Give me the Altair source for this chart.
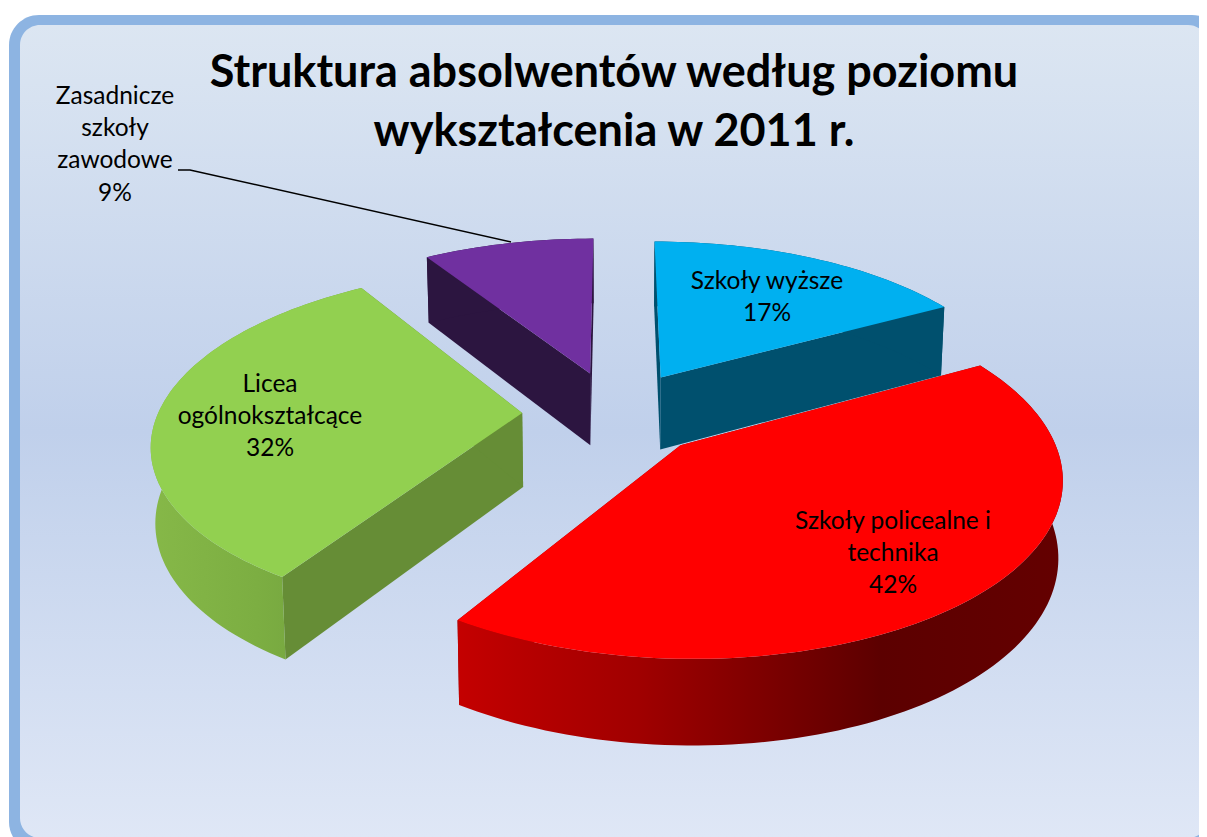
import math
import altair as alt
import pandas as pd

# ---- chart values ----
names = ["Szkoły wyższe", "Szkoły policealne i technika", "Licea ogólnokształcące", "Zasadnicze szkoły zawodowe"]
shares = [17, 42, 32, 9]
top_colors = ["#00B0F0", "#FF0000", "#92D050", "#7030A0"]
cut_colors = ["#00506E", "#8E0000", "#668D36", "#2C1540"]
title_lines = ["Struktura absolwentów według poziomu", "wykształcenia w 2011 r."]
label_lines = [
    ["Szkoły wyższe", "17%"],
    ["Szkoły policealne i", "technika", "42%"],
    ["Licea", "ogólnokształcące", "32%"],
    ["Zasadnicze", "szkoły", "zawodowe", "9%"],
]
label_centre_x = [767, 893, 270, 115]
label_first_y = [282, 522, 385, 97]
draw_order = [3, 0, 2, 1]

# ---- view parameters of the tilted pie ----
CX, CY, RX, RY, PERSP, EXPLODE, DEPTH = 615, 413, 364, 168, 0.16, 0.255, 74
FONT = "Lato"
X = alt.Scale(domain=[8, 1199], range=[0, 1191])
Y = alt.Scale(domain=[8, 837], range=[0, 829])


def project(u, v, low=False):
    s = 1 / (1 - PERSP * v)
    px = CX + RX * u * s
    py = CY + RY * v * s
    if low:
        px = CX + (px - CX) * 0.99
        py = py + DEPTH * s ** 0.75
    return px, py


def slice_geometry(a0, a1):
    mid = (a0 + a1) / 2
    ex, ey = EXPLODE * math.sin(mid), -EXPLODE * math.cos(mid)
    n = max(8, int((a1 - a0) * 40))
    arc = [(ex + math.sin(a0 + (a1 - a0) * i / n), ey - math.cos(a0 + (a1 - a0) * i / n)) for i in range(n + 1)]
    return (ex, ey), arc


def poly(points, fill):
    df = pd.DataFrame([{"i": i, "x": p[0], "y": p[1]} for i, p in enumerate(points)])
    return alt.Chart(df).mark_line(fill=fill, strokeWidth=0, strokeOpacity=0).encode(
        x=alt.X("x:Q", scale=X, axis=None),
        y=alt.Y("y:Q", scale=Y, axis=None),
        order=alt.Order("i:Q"),
    )


def rect(x0, x1, y0, y1, radius, fill):
    df = pd.DataFrame([{"x": x0, "x2": x1, "y": y0, "y2": y1}])
    return alt.Chart(df).mark_rect(cornerRadius=radius, fill=fill).encode(
        x=alt.X("x:Q", scale=X, axis=None), x2="x2:Q",
        y=alt.Y("y:Q", scale=Y, axis=None), y2="y2:Q",
    )


def grad(stops, horizontal=True):
    end = dict(x1=0, x2=1, y1=0, y2=0) if horizontal else dict(x1=0, x2=0, y1=0, y2=1)
    return alt.Gradient(
        gradient="linear",
        stops=[alt.GradientStop(offset=o, color=c) for o, c in stops],
        **end,
    )


wall_fills = [
    "#00506E",
    grad([(0, "#C40000"), (0.3, "#A00000"), (0.7, "#5C0000"), (1, "#640000")]),
    grad([(0, "#86B848"), (0.5, "#7CAE42"), (1, "#6F9E3C")]),
    "#2C1540",
]

layers = [
    rect(9, 1222, 15, 852, 30, "#8DB4E2"),
    rect(20, 1208, 25, 838, 20, grad([(0, "#DCE6F2"), (0.5, "#C0D0EB"), (1, "#DFE7F6")], horizontal=False)),
]

total = sum(shares)
starts = []
acc = 0
for s in shares:
    starts.append(acc)
    acc += s

for k in draw_order:
    a0 = starts[k] / total * 2 * math.pi
    a1 = (starts[k] + shares[k]) / total * 2 * math.pi
    apex, arc = slice_geometry(a0, a1)
    top = [project(*apex)] + [project(*p) for p in arc]
    for edge in (arc[0], arc[-1]):
        quad = [project(*apex), project(*edge), project(*edge, low=True), project(*apex, low=True)]
        layers.append(poly(quad, cut_colors[k]))
    wall = [project(*p) for p in arc] + [project(*p, low=True) for p in reversed(arc)]
    layers.append(poly(wall, wall_fills[k]))
    layers.append(poly(top, top_colors[k]))

# leader line of the smallest slice
leader = pd.DataFrame({"i": [0, 1, 2], "x": [178, 190, 511], "y": [170, 170, 242]})
layers.append(alt.Chart(leader).mark_line(color="black", strokeWidth=1.5).encode(
    x=alt.X("x:Q", scale=X, axis=None), y=alt.Y("y:Q", scale=Y, axis=None), order=alt.Order("i:Q")))

label_rows = []
for k, lines in enumerate(label_lines):
    for j, t in enumerate(lines):
        label_rows.append({"t": t, "x": label_centre_x[k], "y": label_first_y[k] + j * 32.2})
layers.append(alt.Chart(pd.DataFrame(label_rows)).mark_text(
    font=FONT, fontSize=24.5, color="black", align="center", baseline="middle"
).encode(x=alt.X("x:Q", scale=X, axis=None), y=alt.Y("y:Q", scale=Y, axis=None), text="t:N"))

title_rows = [{"t": t, "x": 614, "y": 73 + j * 59} for j, t in enumerate(title_lines)]
layers.append(alt.Chart(pd.DataFrame(title_rows)).mark_text(
    font=FONT, fontSize=45, fontWeight="bold", color="black", align="center", baseline="middle"
).encode(x=alt.X("x:Q", scale=X, axis=None), y=alt.Y("y:Q", scale=Y, axis=None), text="t:N"))

chart = alt.layer(*layers).properties(
    width=1191, height=829, padding=0, autosize=alt.AutoSizeParams(type="none"), background="white",
).configure_view(stroke=None)

chart.save("out.html", embed_options={"renderer": "svg", "actions": False})
